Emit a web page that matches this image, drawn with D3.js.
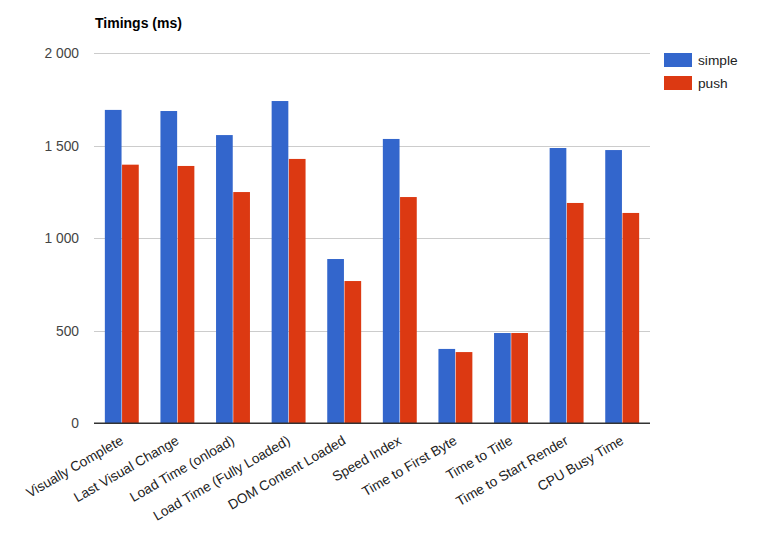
<!DOCTYPE html>
<html><head><meta charset="utf-8">
<script src="https://cdn.jsdelivr.net/npm/d3@7"></script>
<style>body{margin:0;background:#fff}svg{display:block}text{font-family:Arial,"Liberation Sans",sans-serif}</style>
</head><body><svg id="c" width="767" height="535"></svg>
<script>
const categories = ["Visually Complete","Last Visual Change","Load Time (onload)","Load Time (Fully Loaded)","DOM Content Loaded","Speed Index","Time to First Byte","Time to Title","Time to Start Render","CPU Busy Time"];
const seriesNames = ["simple","push"];
const simple = [1694,1688,1558,1742,888,1537,402,488,1488,1477];
const push = [1398,1391,1250,1429,769,1223,385,488,1191,1137];
const yTicks = [0,500,1000,1500,2000];
const colors = ["#3366cc","#dc3912"];
const title = "Timings (ms)";

const svg = d3.select("#c");
const m = {l:94, r:650, t:53.3, b:423.3};
const x = d3.scaleBand().domain(categories).range([m.l,m.r]).paddingInner(0.39).paddingOuter(0.195);
const x1 = d3.scaleBand().domain(seriesNames).range([0,x.bandwidth()]).paddingInner(0.03);
const y = d3.scaleLinear().domain([0,2000]).range([m.b,m.t]);
const fmt = v => d3.format(",")(v).replace(/,/g," ");

// gridlines
svg.append("g").selectAll("line").data(yTicks.filter(d=>d>0)).join("line")
  .attr("x1",m.l).attr("x2",m.r).attr("y1",d=>Math.round(y(d))+0.5).attr("y2",d=>Math.round(y(d))+0.5)
  .attr("stroke","#cccccc").attr("stroke-width",1);
// y labels
svg.append("g").selectAll("text").data(yTicks).join("text")
  .attr("x",79).attr("y",d=>y(d)+5).attr("text-anchor","end")
  .attr("font-size",13.8).attr("fill","#444").text(fmt);

const data = categories.map((c,i)=>({c, vals:[simple[i],push[i]]}));
const g = svg.append("g").selectAll("g").data(data).join("g").attr("transform",d=>`translate(${x(d.c)},0)`);
g.selectAll("rect").data(d=>d.vals.map((v,j)=>({k:seriesNames[j],v,j}))).join("rect")
  .attr("x",d=>x1(d.k)).attr("width",x1.bandwidth())
  .attr("y",d=>y(d.v)).attr("height",d=>y(0)-y(d.v)).attr("fill",d=>colors[d.j]);

// baseline
svg.append("line").attr("x1",m.l).attr("x2",m.r).attr("y1",m.b).attr("y2",m.b).attr("stroke","#333").attr("stroke-width",1.5);

// x labels
svg.append("g").selectAll("text").data(categories).join("text")
  .attr("transform",d=>`translate(${x(d)+x.bandwidth()/2+2.5},${m.b+20}) rotate(-30)`)
  .attr("text-anchor","end").attr("font-size",13.7).attr("fill","#222").text(d=>d);

// title
svg.append("text").attr("x",95).attr("y",27.5).attr("font-size",14).attr("font-weight","bold").attr("fill","#000").text(title);

// legend
const lg = svg.append("g").selectAll("g").data(seriesNames).join("g").attr("transform",(d,i)=>`translate(664,${53+i*23})`);
lg.append("rect").attr("width",28).attr("height",14).attr("fill",(d,i)=>colors[i]);
lg.append("text").attr("x",34).attr("y",12).attr("font-size",13.7).attr("fill","#222").text(d=>d);
</script></body></html>
